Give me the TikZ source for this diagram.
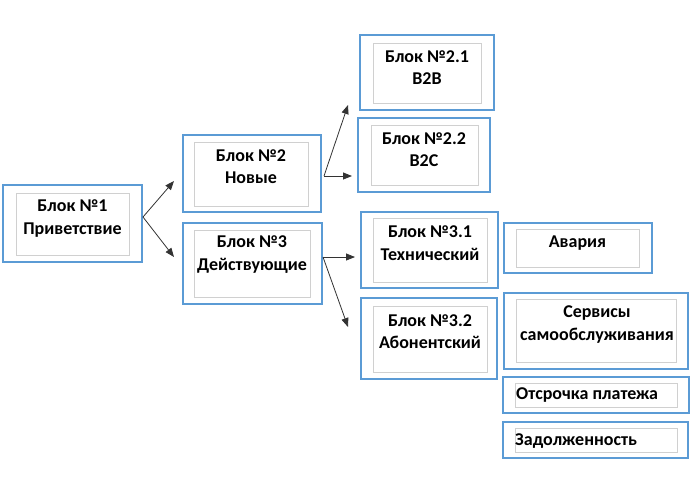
\documentclass[tikz,border=0pt]{standalone}
\usepackage{fontspec}
\setmainfont{Carlito}
\usetikzlibrary{arrows.meta}
\definecolor{boxblue}{HTML}{5B9BD5}
\definecolor{innergray}{HTML}{D0D0D0}
\definecolor{arrowgray}{HTML}{333333}
\tikzset{
  outerbox/.style={draw=boxblue, line width=1.6pt, inner sep=0pt, fill=white},
  innerbox/.style={draw=innergray, line width=0.9pt, inner sep=0pt},
  lbl/.style={font=\bfseries\fontsize{18}{22.5}\selectfont, align=center, inner sep=0pt},
  lblleft/.style={font=\bfseries\fontsize{18}{22.5}\selectfont, anchor=west, inner sep=0pt},
  conn/.style={draw=arrowgray, line width=0.8pt, -{Triangle[length=9pt,width=7pt]}},
}
\newcommand{\blk}[9]{%
  \node[outerbox, minimum width=#4pt-#2pt, minimum height=#5pt-#3pt] (#1) at ({(#2+#4)/2},{(#3+#5)/2}) {};
  \node[innerbox, minimum width=#8pt-#6pt, minimum height=#9pt-#7pt] (#1i) at ({(#6+#8)/2},{(#7+#9)/2}) {};
}
\begin{document}
\begin{tikzpicture}[x=1pt,y=-1pt]
\useasboundingbox (0,0) rectangle (700,477);
\blk{b1}{3}{185}{142}{262}{16}{193}{129}{255}
\blk{b2}{183}{135}{321}{212}{194}{142}{308}{206}
\blk{b3}{183}{223}{322}{304}{194}{230}{310}{297}
\blk{b21}{360}{35}{494}{110}{373}{43}{481}{103}
\blk{b22}{358}{118}{490}{192}{371}{125}{478}{185}
\blk{b31}{361}{212}{498}{288}{373}{218}{487}{282}
\blk{b32}{361}{298}{497}{379}{373}{306}{487}{372}
\blk{av}{504}{223}{652}{273}{516}{229}{639}{267}
\blk{srv}{504}{293}{688}{369}{516}{299}{676}{362}
\blk{ots}{503}{377}{689}{413}{515}{383}{677}{407}
\blk{zad}{503}{422}{688}{458}{515}{428}{677}{452}

\node[lbl] (t1) at (72.5,218.5) {Блок №1\\Приветствие};
\node[lbl] (t2) at (251,166.5) {Блок №2\\Новые};
\node[lbl] (t3) at (252,254.5) {Блок №3\\Действующие};
\node[lbl] (t21) at (427,67.5) {Блок №2.1\\B2B};
\node[lbl] (t22) at (424,149.5) {Блок №2.2\\B2C};
\node[lbl] (t31) at (430,243) {Блок №3.1\\Технический};
\node[lbl] (t32) at (430,331.5) {Блок №3.2\\Абонентский};
\node[lbl] (tav) at (577.5,243) {Авария};
\node[lbl] (tsrv) at (597,324.5) {Сервисы\\самообслуживания};
\node[lblleft] (tots) at (516,395) {Отсрочка платежа};
\node[lblleft] (tzad) at (515,441) {Задолженность};

\coordinate (s1) at (143,217);
\coordinate (e12) at (174,181);
\coordinate (e13) at (174,257);
\coordinate (s2) at (324,176);
\coordinate (e21) at (348,105);
\coordinate (e22) at (352,176);
\coordinate (s3) at (323,257);
\coordinate (e31) at (355,257);
\coordinate (e32) at (348,327);
\draw[conn] (s1) -- (e12);
\draw[conn] (s1) -- (e13);
\draw[conn] (s2) -- (e21);
\draw[conn] (s2) -- (e22);
\draw[conn] (s3) -- (e31);
\draw[conn] (s3) -- (e32);
\end{tikzpicture}
\end{document}
